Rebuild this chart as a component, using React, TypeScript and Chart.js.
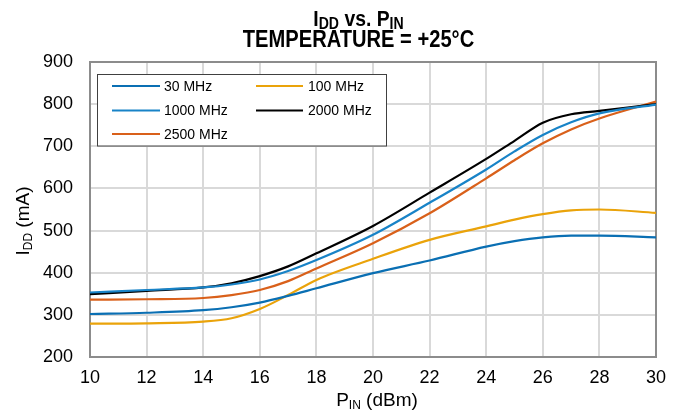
import React, { useEffect, useRef } from "react";
import { Chart, registerables } from "chart.js";

Chart.register(...registerables);

// ---- data ----
const pinDbm = [10, 12, 14, 15, 16, 17, 18, 20, 22, 24, 25, 26, 27, 28, 30];
const idd30MHz = [302, 305, 311, 318, 329, 345, 363, 399, 429, 462, 475, 484, 488, 488, 484];
const idd100MHz = [279, 280, 284, 292, 314, 347, 383, 433, 478, 510, 526, 539, 548, 550, 542];
const idd1000MHz = [353, 359, 365, 372, 384, 404, 430, 490, 566, 645, 688, 727, 757, 778, 799];
const idd2000MHz = [349, 357, 365, 375, 392, 415, 446, 511, 590, 670, 713, 756, 776, 784, 800];
const idd2500MHz = [336, 337, 340, 347, 359, 380, 410, 470, 541, 624, 667, 707, 740, 766, 806];

const seriesNames = ["30 MHz", "100 MHz", "1000 MHz", "2000 MHz", "2500 MHz"];
const seriesValues = [idd30MHz, idd100MHz, idd1000MHz, idd2000MHz, idd2500MHz];
const seriesColors = ["#0a6fb3", "#eaa30a", "#1883c7", "#000000", "#d9601a"];

const xTickValues = [10, 12, 14, 16, 18, 20, 22, 24, 26, 28, 30];
const yTickValues = [200, 300, 400, 500, 600, 700, 800, 900];

const titleLine2 = "TEMPERATURE = +25°C";

const FONT = "'Liberation Sans', Arial, sans-serif";

type Part = { t: string; size: number; bold?: boolean; dy?: number };

function partFont(p: Part) {
  return `${p.bold ? "bold " : ""}${p.size}px ${FONT}`;
}

function measureParts(ctx: CanvasRenderingContext2D, parts: Part[]) {
  let w = 0;
  for (const p of parts) {
    ctx.font = partFont(p);
    w += ctx.measureText(p.t).width;
  }
  return w;
}

function drawParts(ctx: CanvasRenderingContext2D, parts: Part[], x: number, y: number) {
  let cx = x;
  ctx.textAlign = "left";
  ctx.textBaseline = "alphabetic";
  for (const p of parts) {
    ctx.font = partFont(p);
    ctx.fillText(p.t, cx, y + (p.dy || 0));
    cx += ctx.measureText(p.t).width;
  }
}

const decorPlugin = {
  id: "decor",
  beforeDatasetsDraw(chart: any) {
    const { ctx, chartArea: a } = chart;
    ctx.save();
    ctx.strokeStyle = "#8c8c8c";
    ctx.lineWidth = 2;
    ctx.strokeRect(a.left, a.top, a.right - a.left, a.bottom - a.top);
    ctx.restore();
  },
  afterDraw(chart: any) {
    const { ctx, chartArea: a } = chart;
    ctx.save();
    ctx.fillStyle = "#000";

    const cx = 358.5;
    // Title line 1 (condensed bold)
    const t1: Part[] = [
      { t: "I", size: 22, bold: true },
      { t: "DD", size: 16, bold: true, dy: 3 },
      { t: " vs. P", size: 22, bold: true },
      { t: "IN", size: 16, bold: true, dy: 3 },
    ];
    let w = measureParts(ctx, t1);
    ctx.save();
    ctx.translate(cx, 0);
    ctx.scale(0.88, 1);
    drawParts(ctx, t1, -w / 2, 26);
    ctx.restore();

    // Title line 2
    const t2: Part[] = [{ t: titleLine2, size: 23, bold: true }];
    w = measureParts(ctx, t2);
    ctx.save();
    ctx.translate(cx, 0);
    ctx.scale(0.875, 1);
    drawParts(ctx, t2, -w / 2, 47);
    ctx.restore();

    // X axis title
    const xt: Part[] = [
      { t: "P", size: 19 },
      { t: "IN", size: 12, dy: 3 },
      { t: " (dBm)", size: 19 },
    ];
    w = measureParts(ctx, xt);
    drawParts(ctx, xt, (a.left + a.right) / 2 - w / 2 + 4, 406);

    // Y axis title
    const yt: Part[] = [
      { t: "I", size: 19 },
      { t: "DD", size: 12, dy: 3 },
      { t: " (mA)", size: 19 },
    ];
    w = measureParts(ctx, yt);
    ctx.save();
    ctx.translate(29, 221);
    ctx.rotate(-Math.PI / 2);
    drawParts(ctx, yt, -w / 2, 0);
    ctx.restore();

    // Legend
    const lx = 97.5, ly = 74.5, lw = 289, lh = 71.5;
    ctx.fillStyle = "#fff";
    ctx.fillRect(lx, ly, lw, lh);
    ctx.strokeStyle = "#404040";
    ctx.lineWidth = 1;
    ctx.strokeRect(lx, ly, lw, lh);
    const rows = [86, 110.5, 134];
    const cols = [
      { l0: 112, l1: 160, tx: 164 },
      { l0: 256, l1: 303, tx: 308 },
    ];
    ctx.font = `14px ${FONT}`;
    ctx.textBaseline = "middle";
    ctx.textAlign = "left";
    seriesNames.forEach((name, i) => {
      const r = rows[Math.floor(i / 2)];
      const c = cols[i % 2];
      ctx.strokeStyle = seriesColors[i];
      ctx.lineWidth = 2.2;
      ctx.beginPath();
      ctx.moveTo(c.l0, r);
      ctx.lineTo(c.l1, r);
      ctx.stroke();
      ctx.fillStyle = "#000";
      ctx.fillText(name, c.tx, r + 1);
    });
    ctx.restore();
  },
};

export default function App() {
  const ref = useRef<HTMLCanvasElement | null>(null);

  useEffect(() => {
    document.body.style.margin = "0";
    const canvas = ref.current;
    if (!canvas) return;
    const chart = new Chart(canvas, {
      type: "line",
      data: {
        datasets: seriesNames.map((name, i) => ({
          label: name,
          data: pinDbm.map((x, j) => ({ x, y: seriesValues[i][j] })),
          borderColor: seriesColors[i],
          backgroundColor: seriesColors[i],
          borderWidth: 2.2,
          pointRadius: 0,
          cubicInterpolationMode: "monotone" as const,
          fill: false,
        })),
      },
      options: {
        animation: false,
        responsive: false,
        maintainAspectRatio: false,
        layout: { padding: { top: 62, right: 23, left: 0, bottom: 0 } },
        plugins: {
          legend: { display: false },
          title: { display: false },
          tooltip: { enabled: false },
        },
        scales: {
          x: {
            type: "linear",
            min: 10,
            max: 30,
            afterBuildTicks: (s: any) => {
              s.ticks = xTickValues.map((v) => ({ value: v }));
            },
            afterFit: (s: any) => {
              s.height = 58;
            },
            ticks: {
              autoSkip: false,
              maxRotation: 0,
              padding: 10,
              color: "#000",
              font: { family: FONT, size: 18 },
            },
            grid: { color: "#d9d9d9", lineWidth: 2, drawTicks: false },
            border: { display: false },
          },
          y: {
            type: "linear",
            min: 200,
            max: 900,
            afterBuildTicks: (s: any) => {
              s.ticks = yTickValues.map((v) => ({ value: v }));
            },
            afterFit: (s: any) => {
              s.width = 90;
            },
            ticks: {
              padding: 17,
              color: "#000",
              font: { family: FONT, size: 18 },
            },
            grid: { color: "#d9d9d9", lineWidth: 2, drawTicks: false },
            border: { display: false },
          },
        },
      },
      plugins: [decorPlugin],
    } as any);
    return () => chart.destroy();
  }, []);

  return (
    <div style={{ width: 679, height: 415, background: "#fff" }}>
      <canvas ref={ref} width={679} height={415} style={{ display: "block" }} />
    </div>
  );
}
